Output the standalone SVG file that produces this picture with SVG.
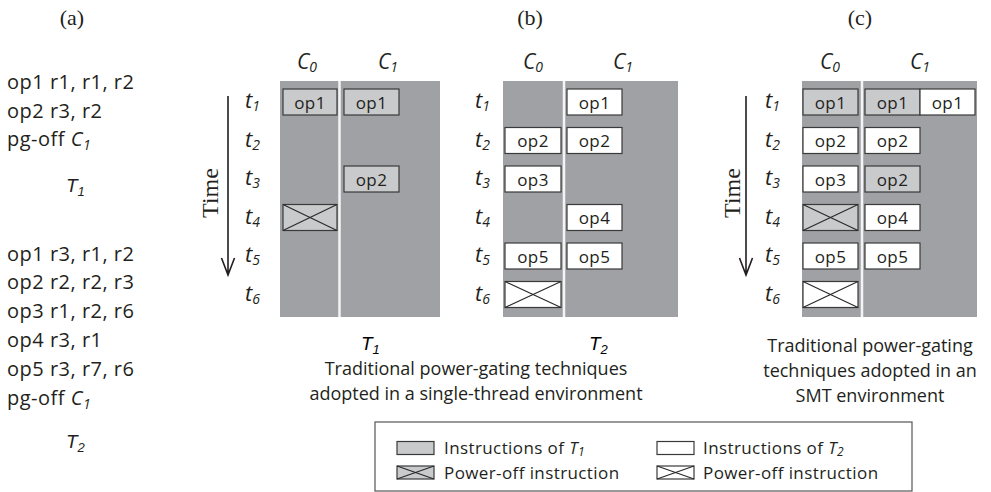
<svg xmlns="http://www.w3.org/2000/svg" width="991" height="492" viewBox="0 0 991 492">
  <style>
    .sans { font-family: "Open Sans", "Liberation Sans", sans-serif; fill: #231f20; }
    .serif { font-family: "Liberation Serif", serif; fill: #231f20; }
    .list { font-size: 20px; letter-spacing: 0.5px; }
    .cap { font-size: 18px; text-anchor: middle; }
    .leg { font-size: 17px; letter-spacing: 0.4px; }
    .hdr { font-size: 21px; font-style: italic; }
    .tl { font-size: 22px; font-style: italic; }
    .thr { font-size: 19px; font-style: italic; font-family: "Liberation Sans", sans-serif; }
    .op { font-size: 17px; text-anchor: middle; letter-spacing: 0.4px; }
    .bg { fill: #a0a1a5; }
    .div { stroke: #f4f4f4; stroke-width: 2.5; }
    .t1 { fill: #c9cacc; stroke: #3a3a3a; stroke-width: 1.2; }
    .t2 { fill: #ffffff; stroke: #3a3a3a; stroke-width: 1.2; }
    .x { stroke: #2a2a2a; stroke-width: 1.2; fill: none; }
    .arrow { stroke: #231f20; stroke-width: 1.6; fill: none; }
    .frame { fill: #ffffff; stroke: #555555; stroke-width: 1.2; }
  </style>

  <!-- panel titles -->
  <text class="serif" x="72" y="25" font-size="22" text-anchor="middle">(a)</text>
  <text class="serif" x="530" y="25" font-size="22" text-anchor="middle">(b)</text>
  <text class="serif" x="860" y="25" font-size="22" text-anchor="middle">(c)</text>

  <!-- (a) thread programs -->
  <g id="program-T1" class="sans list">
    <text x="7" y="89">op1 r1, r1, r2</text>
    <text x="7" y="117.7">op2 r3, r2</text>
    <text x="7" y="146.4">pg-off <tspan font-style="italic">C<tspan font-size="14" dy="4">1</tspan></tspan></text>
    <text class="thr" x="66" y="192" letter-spacing="0">T<tspan font-size="13" dy="4">1</tspan></text>
  </g>
  <g id="program-T2" class="sans list">
    <text x="7" y="260.7">op1 r3, r1, r2</text>
    <text x="7" y="289.3">op2 r2, r2, r3</text>
    <text x="7" y="318.3">op3 r1, r2, r6</text>
    <text x="7" y="346.7">op4 r3, r1</text>
    <text x="7" y="375.7">op5 r3, r7, r6</text>
    <text x="7" y="404.6">pg-off <tspan font-style="italic">C<tspan font-size="14" dy="4">1</tspan></tspan></text>
    <text class="thr" x="66" y="448" letter-spacing="0">T<tspan font-size="13" dy="4">2</tspan></text>
  </g>

  <!-- (b) single-thread, T1 -->
  <g id="st-T1">
    <rect class="bg" x="280" y="81" width="160" height="236"/>
    <line class="div" x1="339.5" y1="81" x2="339.5" y2="317"/>
    <text class="sans hdr" x="297" y="69">C<tspan font-size="14" dy="3">0</tspan></text>
    <text class="sans hdr" x="378" y="69">C<tspan font-size="14" dy="3">1</tspan></text>
    <g class="sans tl">
      <text x="245" y="108">t<tspan font-size="14" dy="3">1</tspan></text>
      <text x="245" y="146.5">t<tspan font-size="14" dy="3">2</tspan></text>
      <text x="245" y="185">t<tspan font-size="14" dy="3">3</tspan></text>
      <text x="245" y="223.5">t<tspan font-size="14" dy="3">4</tspan></text>
      <text x="245" y="262">t<tspan font-size="14" dy="3">5</tspan></text>
      <text x="245" y="300.5">t<tspan font-size="14" dy="3">6</tspan></text>
    </g>
    <g id="st-T1-c0-op1"><rect class="t1" x="283" y="89" width="54" height="26"/><text class="sans op" x="310" y="108.5">op1</text></g>
    <g id="st-T1-c1-op1"><rect class="t1" x="344" y="89" width="55" height="26"/><text class="sans op" x="371.5" y="108.5">op1</text></g>
    <g id="st-T1-c1-op2"><rect class="t1" x="344" y="166" width="55" height="26"/><text class="sans op" x="371.5" y="185.5">op2</text></g>
    <g id="st-T1-c0-off"><rect class="t1" x="283" y="204.5" width="54" height="26"/><path class="x" d="M283 204.5 L337 230.5 M337 204.5 L283 230.5"/></g>
    <text class="thr" x="361" y="350">T<tspan font-size="13" dy="4">1</tspan></text>
  </g>

  <!-- (b) single-thread, T2 -->
  <g id="st-T2">
    <rect class="bg" x="503" y="81" width="175" height="236"/>
    <line class="div" x1="564" y1="81" x2="564" y2="317"/>
    <text class="sans hdr" x="523" y="69">C<tspan font-size="14" dy="3">0</tspan></text>
    <text class="sans hdr" x="613" y="69">C<tspan font-size="14" dy="3">1</tspan></text>
    <g class="sans tl">
      <text x="475" y="108">t<tspan font-size="14" dy="3">1</tspan></text>
      <text x="475" y="146.5">t<tspan font-size="14" dy="3">2</tspan></text>
      <text x="475" y="185">t<tspan font-size="14" dy="3">3</tspan></text>
      <text x="475" y="223.5">t<tspan font-size="14" dy="3">4</tspan></text>
      <text x="475" y="262">t<tspan font-size="14" dy="3">5</tspan></text>
      <text x="475" y="300.5">t<tspan font-size="14" dy="3">6</tspan></text>
    </g>
    <g id="st-T2-c1-op1"><rect class="t2" x="567" y="89" width="55" height="26"/><text class="sans op" x="594.5" y="108.5">op1</text></g>
    <g id="st-T2-c0-op2"><rect class="t2" x="505" y="127.5" width="56" height="26"/><text class="sans op" x="533" y="147">op2</text></g>
    <g id="st-T2-c1-op2"><rect class="t2" x="567" y="127.5" width="55" height="26"/><text class="sans op" x="594.5" y="147">op2</text></g>
    <g id="st-T2-c0-op3"><rect class="t2" x="505" y="166" width="56" height="26"/><text class="sans op" x="533" y="185.5">op3</text></g>
    <g id="st-T2-c1-op4"><rect class="t2" x="567" y="204.5" width="55" height="26"/><text class="sans op" x="594.5" y="224">op4</text></g>
    <g id="st-T2-c0-op5"><rect class="t2" x="505" y="243" width="56" height="26"/><text class="sans op" x="533" y="262.5">op5</text></g>
    <g id="st-T2-c1-op5"><rect class="t2" x="567" y="243" width="55" height="26"/><text class="sans op" x="594.5" y="262.5">op5</text></g>
    <g id="st-T2-c0-off"><rect class="t2" x="505" y="281.5" width="56" height="26"/><path class="x" d="M505 281.5 L561 307.5 M561 281.5 L505 307.5"/></g>
    <text class="thr" x="589" y="350">T<tspan font-size="13" dy="4">2</tspan></text>
  </g>

  <text class="sans cap" x="476" y="375">Traditional power-gating techniques</text>
  <text class="sans cap" x="476" y="400">adopted in a single-thread environment</text>

  <!-- (c) SMT -->
  <g id="smt">
    <rect class="bg" x="802" y="81" width="175" height="236"/>
    <line class="div" x1="862" y1="81" x2="862" y2="317"/>
    <text class="sans hdr" x="820" y="69">C<tspan font-size="14" dy="3">0</tspan></text>
    <text class="sans hdr" x="910" y="69">C<tspan font-size="14" dy="3">1</tspan></text>
    <g class="sans tl">
      <text x="765" y="108">t<tspan font-size="14" dy="3">1</tspan></text>
      <text x="765" y="146.5">t<tspan font-size="14" dy="3">2</tspan></text>
      <text x="765" y="185">t<tspan font-size="14" dy="3">3</tspan></text>
      <text x="765" y="223.5">t<tspan font-size="14" dy="3">4</tspan></text>
      <text x="765" y="262">t<tspan font-size="14" dy="3">5</tspan></text>
      <text x="765" y="300.5">t<tspan font-size="14" dy="3">6</tspan></text>
    </g>
    <g id="smt-c0-op1"><rect class="t1" x="803" y="89" width="55" height="26"/><text class="sans op" x="830.5" y="108.5">op1</text></g>
    <g id="smt-c1-op1-a"><rect class="t1" x="865" y="89" width="55" height="26"/><text class="sans op" x="892.5" y="108.5">op1</text></g>
    <g id="smt-c1-op1-b"><rect class="t2" x="920" y="89" width="55" height="26"/><text class="sans op" x="947.5" y="108.5">op1</text></g>
    <g id="smt-c0-op2"><rect class="t2" x="803" y="127.5" width="55" height="26"/><text class="sans op" x="830.5" y="147">op2</text></g>
    <g id="smt-c1-op2-a"><rect class="t2" x="865" y="127.5" width="55" height="26"/><text class="sans op" x="892.5" y="147">op2</text></g>
    <g id="smt-c0-op3"><rect class="t2" x="803" y="166" width="55" height="26"/><text class="sans op" x="830.5" y="185.5">op3</text></g>
    <g id="smt-c1-op2-b"><rect class="t1" x="865" y="166" width="55" height="26"/><text class="sans op" x="892.5" y="185.5">op2</text></g>
    <g id="smt-c0-off-a"><rect class="t1" x="803" y="204.5" width="55" height="26"/><path class="x" d="M803 204.5 L858 230.5 M858 204.5 L803 230.5"/></g>
    <g id="smt-c1-op4"><rect class="t2" x="865" y="204.5" width="55" height="26"/><text class="sans op" x="892.5" y="224">op4</text></g>
    <g id="smt-c0-op5"><rect class="t2" x="803" y="243" width="55" height="26"/><text class="sans op" x="830.5" y="262.5">op5</text></g>
    <g id="smt-c1-op5"><rect class="t2" x="865" y="243" width="55" height="26"/><text class="sans op" x="892.5" y="262.5">op5</text></g>
    <g id="smt-c0-off-b"><rect class="t2" x="803" y="281.5" width="55" height="26"/><path class="x" d="M803 281.5 L858 307.5 M858 281.5 L803 307.5"/></g>
  </g>

  <text class="sans cap" x="870" y="352">Traditional power-gating</text>
  <text class="sans cap" x="870" y="377">techniques adopted in an</text>
  <text class="sans cap" x="870" y="402">SMT environment</text>

  <!-- time axes -->
  <g id="connectors">
    <path class="arrow" d="M228 96 V275 M221.5 258 L228 275 L234.5 258"/>
    <path class="arrow" d="M746 96 V275 M739.5 258 L746 275 L752.5 258"/>
  </g>
  <text class="serif" font-size="24" transform="translate(218 193) rotate(-90)" text-anchor="middle">Time</text>
  <text class="serif" font-size="24" transform="translate(740 193) rotate(-90)" text-anchor="middle">Time</text>

  <!-- legend -->
  <g id="legend">
    <rect class="frame" x="375" y="422" width="537" height="69"/>
    <rect class="t1" x="397" y="441.5" width="37" height="13"/>
    <text class="sans leg" x="444" y="453.5">Instructions of <tspan font-style="italic">T<tspan font-size="12" dy="2">1</tspan></tspan></text>
    <rect class="t1" x="397" y="466" width="37" height="13"/>
    <path class="x" d="M397 466 L434 479 M434 466 L397 479"/>
    <text class="sans leg" x="444" y="478.5">Power-off instruction</text>
    <rect class="t2" x="657" y="441.5" width="37" height="13"/>
    <text class="sans leg" x="703" y="453.5">Instructions of <tspan font-style="italic">T<tspan font-size="12" dy="2">2</tspan></tspan></text>
    <rect class="t2" x="657" y="466" width="37" height="13"/>
    <path class="x" d="M657 466 L694 479 M694 466 L657 479"/>
    <text class="sans leg" x="703" y="478.5">Power-off instruction</text>
  </g>
</svg>
